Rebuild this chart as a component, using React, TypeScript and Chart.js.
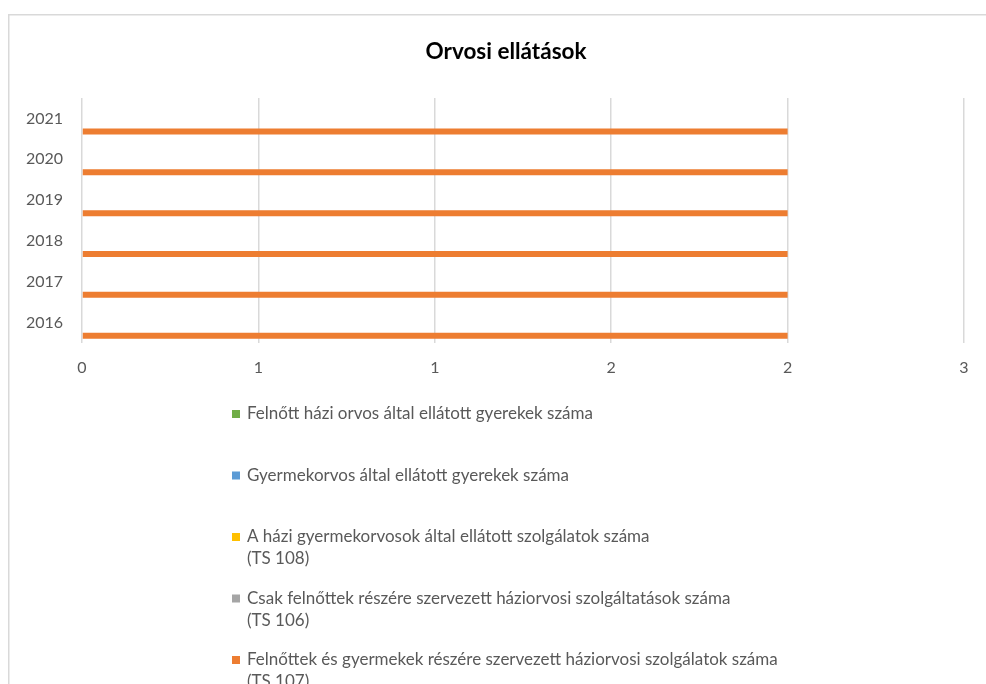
import React, { useEffect, useRef } from 'react';
import { Chart, registerables } from 'chart.js';

Chart.register(...registerables);

const chartTitle = 'Orvosi ellátások';
const years = ['2016', '2017', '2018', '2019', '2020', '2021'];
const xTickLabels = ['0', '1', '1', '2', '2', '3'];

const seriesNames = [
  'Felnőtt házi orvos által ellátott gyerekek száma',
  'Gyermekorvos által ellátott gyerekek száma',
  'A házi gyermekorvosok által ellátott szolgálatok száma\n(TS 108)',
  'Csak felnőttek részére szervezett háziorvosi szolgáltatások száma\n(TS 106)',
  'Felnőttek és gyermekek részére szervezett háziorvosi szolgálatok száma\n(TS 107)',
];
const seriesColors = ['#70AD47', '#5B9BD5', '#FFC000', '#A5A5A5', '#ED7D31'];

const adultGpChildren = [0, 0, 0, 0, 0, 0];
const pediatricianChildren = [0, 0, 0, 0, 0, 0];
const ts108 = [0, 0, 0, 0, 0, 0];
const ts106 = [0, 0, 0, 0, 0, 0];
const ts107 = [2, 2, 2, 2, 2, 2];

const seriesValues = [adultGpChildren, pediatricianChildren, ts108, ts106, ts107];

const FONT = 'Lato, "Liberation Sans", sans-serif';
const TEXT = '#595959';

const decorPlugin = {
  id: 'decor',
  beforeDraw(chart: any) {
    const ctx = chart.ctx;
    ctx.save();
    ctx.fillStyle = '#ffffff';
    ctx.fillRect(0, 0, chart.width, chart.height);
    ctx.strokeStyle = '#d9d9d9';
    ctx.lineWidth = 1.5;
    ctx.beginPath();
    ctx.moveTo(8.75, chart.height + 5);
    ctx.lineTo(8.75, 14.75);
    ctx.lineTo(chart.width + 5, 14.75);
    ctx.stroke();
    ctx.restore();
  },
  afterDraw(chart: any) {
    const ctx = chart.ctx;
    ctx.save();
    // title
    ctx.fillStyle = '#000000';
    ctx.font = `bold 22.5px ${FONT}`;
    ctx.textAlign = 'center';
    ctx.textBaseline = 'middle';
    ctx.fillText(chartTitle, 506, 52);
    // legend
    const ds = chart.data.datasets;
    const x0 = 232;
    const textX = 247;
    const startY = 414;
    const step = 61.5;
    const lineH = 22;
    ctx.font = `17px ${FONT}`;
    ctx.textAlign = 'left';
    ctx.textBaseline = 'middle';
    ds.forEach((d: any, i: number) => {
      const y = startY + i * step;
      ctx.fillStyle = d.backgroundColor;
      ctx.fillRect(x0, y - 4, 8, 8);
      ctx.fillStyle = TEXT;
      const lines = String(d.label).split('\n');
      lines.forEach((ln: string, j: number) => {
        ctx.fillText(ln, textX, y + j * lineH);
      });
    });
    ctx.restore();
  },
};

export default function App() {
  const ref = useRef<HTMLCanvasElement | null>(null);
  useEffect(() => {
    if (!ref.current) return;
    const labels = [...years].reverse();
    const chart = new Chart(ref.current, {
      type: 'bar',
      data: {
        labels,
        datasets: seriesNames.map((name, i) => ({
          label: name,
          data: [...seriesValues[i]].reverse(),
          backgroundColor: seriesColors[i],
          borderWidth: 0,
          categoryPercentage: 0.8,
          barPercentage: 0.92,
        })),
      },
      options: {
        indexAxis: 'y',
        animation: false,
        responsive: false,
        maintainAspectRatio: false,
        layout: { padding: { left: 8, top: 98, right: 22, bottom: 301 } },
        plugins: {
          legend: { display: false },
          title: { display: false },
          tooltip: { enabled: false },
        },
        scales: {
          x: {
            type: 'linear',
            min: 0,
            max: 2.5,
            ticks: {
              stepSize: 0.5,
              color: TEXT,
              font: { family: FONT, size: 16 },
              padding: 15,
              callback: (_v: any, i: number) => xTickLabels[i],
            },
            grid: { color: '#d9d9d9', lineWidth: 1.5, drawTicks: false },
            border: { display: false },
            afterFit: (s: any) => { s.height = 40; },
          },
          y: {
            type: 'category',
            ticks: {
              color: TEXT,
              font: { family: FONT, size: 16 },
              padding: 19,
            },
            grid: { display: false, drawTicks: false },
            border: { display: false },
            afterFit: (s: any) => { s.width = 74; },
          },
        },
      },
      plugins: [decorPlugin],
    } as any);
    return () => chart.destroy();
  }, []);
  return (
    <div style={{ position: 'fixed', left: 0, top: 0, width: 986, height: 684, background: '#fff' }}>
      <canvas ref={ref} width={986} height={684} style={{ display: 'block' }} />
    </div>
  );
}
